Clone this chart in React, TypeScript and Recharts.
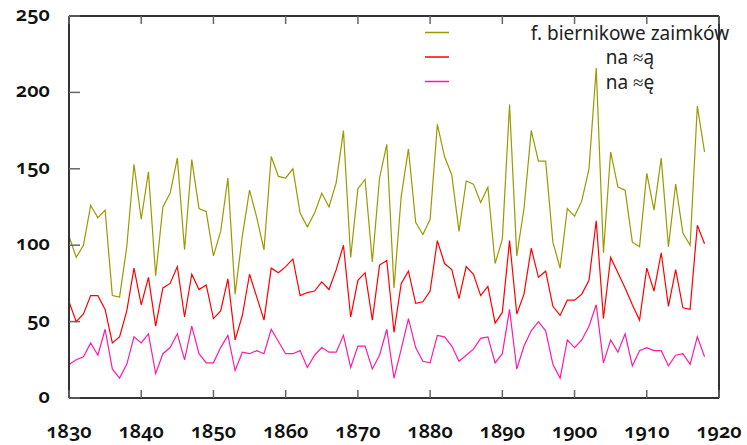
import { LineChart, Line, XAxis, YAxis, Legend } from "recharts"

const FIRST_YEAR = 1830

const allForms = [
  106, 92, 100, 126, 118, 123, 67, 66, 99, 153,
  117, 148, 80, 125, 134, 157, 97, 156, 124, 122,
  93, 109, 144, 68, 106, 136, 118, 97, 158, 145,
  144, 150, 121, 112, 121, 134, 125, 141, 175, 92,
  137, 143, 89, 144, 166, 72, 132, 163, 115, 107,
  117, 179, 158, 146, 109, 142, 140, 128, 138, 88,
  104, 192, 93, 124, 175, 155, 155, 102, 85, 124,
  119, 129, 150, 216, 95, 161, 138, 136, 102, 99,
  147, 123, 157, 99, 140, 108, 100, 191, 161,
]

const endingA = [
  63, 50, 55, 67, 67, 58, 36, 40, 57, 85,
  61, 79, 47, 72, 75, 86, 53, 81, 71, 74,
  52, 57, 78, 38, 54, 81, 66, 51, 85, 82,
  86, 91, 67, 69, 70, 76, 71, 84, 100, 53,
  77, 82, 51, 87, 90, 43, 75, 83, 62, 63,
  70, 103, 88, 84, 65, 86, 81, 67, 73, 49,
  56, 103, 55, 68, 98, 79, 83, 60, 54, 64,
  64, 68, 77, 116, 52, 92, 82, 72, 61, 51,
  85, 70, 95, 60, 84, 59, 58, 113, 101,
]

const endingE = [
  22, 25, 27, 36, 28, 45, 19, 13, 22, 40,
  36, 42, 16, 29, 33, 42, 25, 47, 29, 23,
  23, 33, 41, 18, 30, 29, 31, 29, 45, 37,
  29, 29, 31, 20, 28, 33, 30, 30, 41, 20,
  34, 34, 19, 28, 45, 13, 32, 52, 33, 24,
  23, 41, 40, 34, 24, 28, 32, 39, 40, 23,
  29, 58, 19, 34, 44, 50, 44, 22, 13, 38,
  33, 38, 47, 61, 23, 38, 30, 42, 21, 31,
  33, 31, 31, 21, 28, 29, 22, 40, 27,
]

const xTicks = [1830, 1840, 1850, 1860, 1870, 1880, 1890, 1900, 1910, 1920]
const yTicks = [0, 50, 100, 150, 200, 250]

const OLIVE = "#9a9a00"
const RED = "#ff0000"
const PINK = "#ff1aa8"
const FRAME = "#333333"
const TICK = "#666666"

const data = allForms.map((v, i) => ({
  year: FIRST_YEAR + i,
  all: v,
  a: endingA[i],
  e: endingE[i],
}))

const labelStyle = {
  fontFamily: "'Noto Sans'",
  fontSize: 20,
  fontWeight: 600,
  fontVariantNumeric: "oldstyle-nums",
  fill: "#111",
}

function BottomTick({ x, y, payload }: any) {
  return (
    <g>
      <line x1={x} y1={y} x2={x} y2={y - 8} stroke={TICK} strokeWidth={1.5} />
      <text x={x} y={y + 40} textAnchor="middle" style={labelStyle}>
        {String(payload.value)}
      </text>
    </g>
  )
}

function TopTick({ x, y }: any) {
  return <line x1={x} y1={y} x2={x} y2={y + 8} stroke={TICK} strokeWidth={1.5} />
}

function LeftTick({ x, y, payload }: any) {
  return (
    <g>
      <line x1={x} y1={y} x2={x + 11} y2={y} stroke={TICK} strokeWidth={1.5} />
      <text x={x - 19} y={y + 5} textAnchor="end" style={labelStyle}>
        {String(payload.value)}
      </text>
    </g>
  )
}

function RightTick({ x, y }: any) {
  return <line x1={x} y1={y} x2={x - 11} y2={y} stroke={TICK} strokeWidth={1.5} />
}

function KeyBox({ payload }: any) {
  const items = payload ?? []
  return (
    <svg width={747} height={100} style={{ display: "block", overflow: "visible" }}>
      {items.map((item: any, i: number) => {
        const y = 32.5 + i * 24.5
        return (
          <g key={item.value}>
            <line x1={425} y1={y} x2={449} y2={y} stroke={item.color} strokeWidth={1.5} />
            <text
              x={630}
              y={y + 7}
              textAnchor="middle"
              style={{ fontFamily: "'Noto Sans'", fontSize: 19, fill: "#222" }}
            >
              {item.value}
            </text>
          </g>
        )
      })}
    </svg>
  )
}

export default function App() {
  return (
    <div style={{ position: "absolute", left: 0, top: 0, width: 747, height: 445, background: "#fff" }}>
      <LineChart width={747} height={445} data={data} margin={{ top: 0, right: 0, bottom: 0, left: 9 }}>
        <XAxis
          dataKey="year"
          type="number"
          domain={[1830, 1920]}
          ticks={xTicks}
          height={47}
          tickSize={0}
          tickMargin={0}
          tick={<BottomTick />}
          axisLine={{ stroke: FRAME, strokeWidth: 2 }}
          interval={0}
        />
        <XAxis
          xAxisId="top"
          orientation="top"
          dataKey="year"
          type="number"
          domain={[1830, 1920]}
          ticks={xTicks}
          height={16}
          tickSize={0}
          tickMargin={0}
          tick={<TopTick />}
          axisLine={{ stroke: FRAME, strokeWidth: 2 }}
          interval={0}
        />
        <YAxis
          domain={[0, 250]}
          ticks={yTicks}
          width={60}
          tickSize={0}
          tickMargin={0}
          tick={<LeftTick />}
          axisLine={{ stroke: FRAME, strokeWidth: 2 }}
          interval={0}
        />
        <YAxis
          yAxisId="right"
          orientation="right"
          domain={[0, 250]}
          ticks={yTicks}
          width={28}
          tickSize={0}
          tickMargin={0}
          tick={<RightTick />}
          axisLine={{ stroke: FRAME, strokeWidth: 2 }}
          interval={0}
        />
        <Legend
          content={<KeyBox />}
          verticalAlign="top"
          wrapperStyle={{ position: "absolute", left: 0, top: 0, width: 747, height: 0, overflow: "visible" }}
        />
        <Line
          dataKey="all"
          name="f. biernikowe zaimków"
          stroke={OLIVE}
          strokeWidth={1.2}
          dot={false}
          type="linear"
          isAnimationActive={false}
        />
        <Line
          dataKey="a"
          name="na ≈ą"
          stroke={RED}
          strokeWidth={1.2}
          dot={false}
          type="linear"
          isAnimationActive={false}
        />
        <Line
          dataKey="e"
          name="na ≈ę"
          stroke={PINK}
          strokeWidth={1.2}
          dot={false}
          type="linear"
          isAnimationActive={false}
        />
      </LineChart>
    </div>
  )
}
